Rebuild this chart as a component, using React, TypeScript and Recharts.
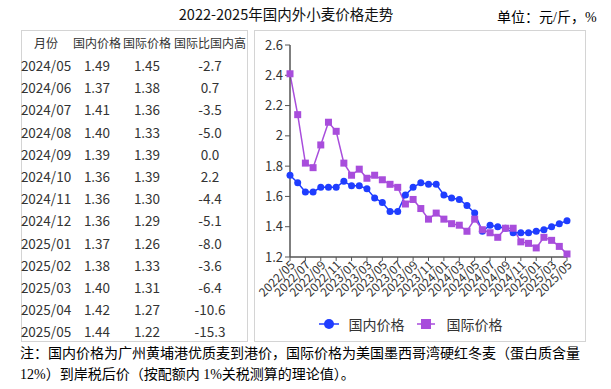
import { LineChart, Line, XAxis, YAxis, Legend } from 'recharts';

const months = [
  '2022/05', '2022/06', '2022/07', '2022/08', '2022/09', '2022/10', '2022/11', '2022/12',
  '2023/01', '2023/02', '2023/03', '2023/04', '2023/05', '2023/06', '2023/07', '2023/08',
  '2023/09', '2023/10', '2023/11', '2023/12', '2024/01', '2024/02', '2024/03', '2024/04',
  '2024/05', '2024/06', '2024/07', '2024/08', '2024/09', '2024/10', '2024/11', '2024/12',
  '2025/01', '2025/02', '2025/03', '2025/04', '2025/05',
];

const domestic = [
  1.74, 1.69, 1.63, 1.63, 1.66, 1.66, 1.66, 1.70, 1.67, 1.67, 1.65, 1.59, 1.56, 1.50, 1.50, 1.61,
  1.66, 1.69, 1.68, 1.68, 1.61, 1.59, 1.58, 1.54, 1.49, 1.37, 1.41, 1.40, 1.39, 1.36, 1.36, 1.36,
  1.37, 1.38, 1.40, 1.42, 1.44,
];

const international = [
  2.41, 2.14, 1.82, 1.79, 1.94, 2.09, 2.03, 1.82, 1.74, 1.78, 1.72, 1.74, 1.71, 1.68, 1.66, 1.55,
  1.58, 1.52, 1.45, 1.49, 1.45, 1.42, 1.41, 1.37, 1.45, 1.38, 1.36, 1.33, 1.39, 1.39, 1.30, 1.29,
  1.26, 1.33, 1.31, 1.27, 1.22,
];

const yTicks = [1.2, 1.4, 1.6, 1.8, 2, 2.2, 2.4, 2.6];

const tableHeader = ['月份', '国内价格', '国际价格', '国际比国内高'];
const tableMonths = ['2024/05', '2024/06', '2024/07', '2024/08', '2024/09', '2024/10', '2024/11', '2024/12', '2025/01', '2025/02', '2025/03', '2025/04', '2025/05'];
const tableDomestic = ['1.49', '1.37', '1.41', '1.40', '1.39', '1.36', '1.36', '1.36', '1.37', '1.38', '1.40', '1.42', '1.44'];
const tableIntl = ['1.45', '1.38', '1.36', '1.33', '1.39', '1.39', '1.30', '1.29', '1.26', '1.33', '1.31', '1.27', '1.22'];
const tableDiff = ['-2.7', '0.7', '-3.5', '-5.0', '0.0', '2.2', '-4.4', '-5.1', '-8.0', '-3.6', '-6.4', '-10.6', '-15.3'];

const BLUE = '#1f3dff';
const PURPLE = '#a84ddc';
const SANS = '"Noto Sans CJK SC", "Noto Sans", sans-serif';
const SERIF = '"Liberation Serif", "Noto Sans CJK SC", serif';

const data = months.map((m, i) => ({ month: m, domestic: domestic[i], international: international[i] }));

const colX = [46, 97, 147, 210];

function XTick({ x, y, payload }: any) {
  return (
    <text
      x={x}
      y={y}
      dy={6}
      dx={2}
      textAnchor="end"
      fontSize={12}
      fill="#333"
      fontFamily={SANS}
      transform={`rotate(-45, ${x}, ${y})`}
    >
      {payload.value}
    </text>
  );
}

function SquareDot({ cx, cy }: any) {
  if (cx == null || cy == null) return null;
  return <rect x={cx - 3.5} y={cy - 3.5} width={7} height={7} fill={PURPLE} />;
}

function ChartLegend() {
  return (
    <div style={{ height: 30, display: 'flex', justifyContent: 'center', alignItems: 'flex-start', fontFamily: SANS, fontSize: 14, color: '#333' }}>
      <div style={{ display: 'flex', alignItems: 'center', height: 24 }}>
        <svg width={20} height={10} style={{ marginRight: 10 }}>
          <line x1={0} y1={5} x2={20} y2={5} stroke={BLUE} strokeWidth={1.5} />
          <circle cx={10} cy={5} r={5} fill={BLUE} />
        </svg>
        <span>国内价格</span>
      </div>
      <div style={{ display: 'flex', alignItems: 'center', height: 24, marginLeft: 12 }}>
        <svg width={18} height={10} style={{ marginRight: 12 }}>
          <line x1={0} y1={5} x2={18} y2={5} stroke={PURPLE} strokeWidth={1.5} />
          <rect x={4} y={0} width={10} height={10} fill={PURPLE} />
        </svg>
        <span>国际价格</span>
      </div>
    </div>
  );
}

export default function App() {
  return (
    <div style={{ position: 'absolute', left: 0, top: 0, width: 611, height: 389, background: '#fff', overflow: 'hidden' }}>
      <div style={{ position: 'absolute', left: 100, width: 372, top: 4, textAlign: 'center', fontFamily: SANS, fontSize: 14.5, color: '#111', lineHeight: '20px' }}>
        2022-2025年国内外小麦价格走势
      </div>
      <div style={{ position: 'absolute', left: 497, top: 8, fontFamily: SERIF, fontSize: 14, color: '#000', lineHeight: '20px' }}>
        单位：元/斤，%
      </div>

      <div style={{ position: 'absolute', left: 21, top: 30, width: 227, height: 312, border: '1px solid #d4d4d4', boxSizing: 'border-box' }} />
      {[tableHeader].concat(tableMonths.map((m, i) => [m, tableDomestic[i], tableIntl[i], tableDiff[i]])).map((row, r) =>
        row.map((cell, c) => (
          <div
            key={`${r}-${c}`}
            style={{
              position: 'absolute',
              left: colX[c] - 40,
              width: 80,
              top: (r === 0 ? 43 : 65 + (r - 1) * 22.2) - 10,
              height: 20,
              lineHeight: '20px',
              textAlign: 'center',
              fontFamily: SANS,
              fontSize: r === 0 ? 12 : 13.5,
              color: '#333',
            }}
          >
            {cell}
          </div>
        ))
      )}

      <div style={{ position: 'absolute', left: 254, top: 30, width: 332, height: 312, border: '1px solid #d4d4d4', boxSizing: 'border-box' }} />
      <div style={{ position: 'absolute', left: 254, top: 30 }}>
        <LineChart width={332} height={312} data={data} margin={{ top: 15, right: 19, left: 0, bottom: 0 }}>
          <XAxis
            dataKey="month"
            interval={1}
            height={55}
            tickSize={4}
            tick={<XTick />}
            stroke="#555"
            axisLine={{ stroke: '#555', strokeWidth: 1.5 }}
          />
          <YAxis
            domain={[1.2, 2.6]}
            ticks={yTicks}
            width={36}
            tickSize={5}
            stroke="#555"
            axisLine={{ stroke: '#555', strokeWidth: 1.5 }}
            tick={{ fill: '#333', fontSize: 13, fontFamily: SANS }}
          />
          <Legend verticalAlign="bottom" content={<ChartLegend />} />
          <Line
            dataKey="domestic"
            name="国内价格"
            stroke={BLUE}
            strokeWidth={1.5}
            dot={{ r: 3.5, fill: BLUE, stroke: BLUE, strokeWidth: 0 }}
            isAnimationActive={false}
          />
          <Line
            dataKey="international"
            name="国际价格"
            stroke={PURPLE}
            strokeWidth={1.5}
            dot={<SquareDot />}
            isAnimationActive={false}
          />
        </LineChart>
      </div>

      <div style={{ position: 'absolute', left: 20, top: 343, width: 590, fontFamily: SERIF, fontSize: 14, lineHeight: '21px', color: '#000' }}>
        注：国内价格为广州黄埔港优质麦到港价，国际价格为美国墨西哥湾硬红冬麦（蛋白质含量
        <br />
        12%）到岸税后价（按配额内 1%关税测算的理论值）。
      </div>
    </div>
  );
}
